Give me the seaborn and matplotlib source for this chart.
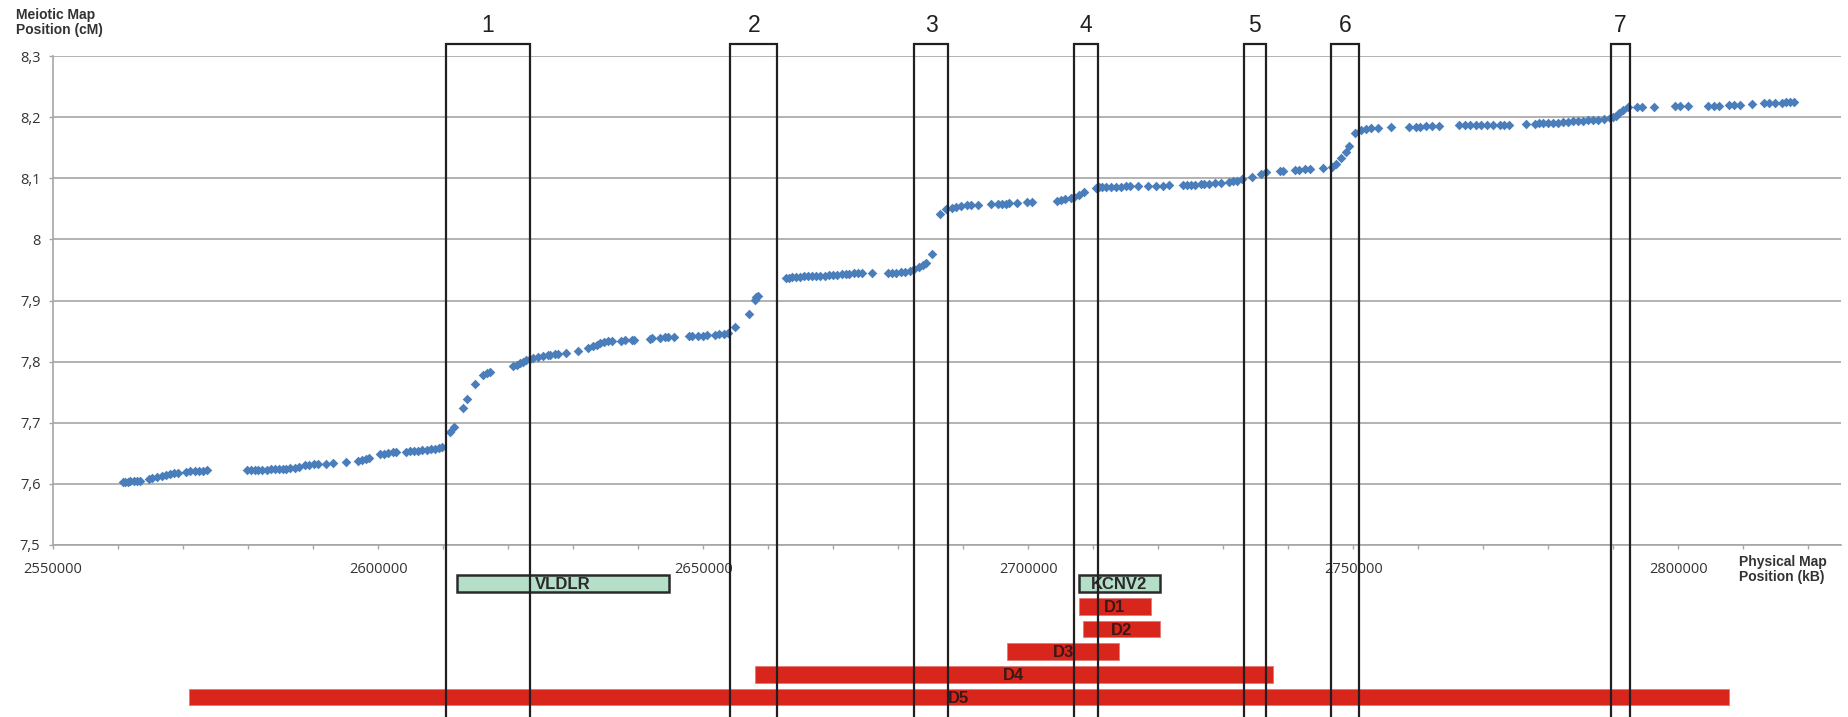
import matplotlib
matplotlib.use("Agg")
import matplotlib.pyplot as plt
from matplotlib.patches import Rectangle
from matplotlib.transforms import blended_transform_factory
from matplotlib.ticker import MultipleLocator, FuncFormatter
from matplotlib import font_manager
import seaborn as sns
import pandas as pd

# ---------------------------------------------------------------- data
physical_pos = [
    2560700, 2561100, 2561500, 2561900, 2562400, 2562900, 2563400,
    2564800, 2565300, 2566000, 2566700, 2567400, 2568000, 2568600, 2569300,
    2570400, 2571100, 2571800, 2572400, 2573100, 2573700,
    2579800, 2580400, 2581000, 2581600, 2582200, 2582900, 2583500, 2584100,
    2584700, 2585300, 2585900, 2586500, 2587200, 2587800,
    2588700, 2589400, 2590100, 2590800, 2592000, 2593100,
    2595000,
    2596900, 2597600, 2598200, 2598600,
    2600300, 2600900, 2601600, 2602300, 2602800,
    2604300, 2604900, 2605500, 2606200, 2606800, 2607500, 2608100, 2608700, 2609300, 2609900,
    2611000, 2611700, 2613000, 2613700, 2614900, 2616200, 2616700, 2617200,
    2620800, 2621300, 2621800, 2622300, 2622800, 2623300, 2623900, 2624600, 2625400, 2626200,
    2626500, 2627200, 2627700, 2628900, 2630700, 2632300, 2633000, 2633600, 2634200, 2634800,
    2635400, 2635900, 2637400, 2637900, 2639000, 2639300, 2641800, 2642200, 2643400, 2644100,
    2644600, 2645500, 2647800, 2648300, 2649200, 2650000, 2650600, 2651800, 2652400, 2653200,
    2653800, 2654900, 2657000, 2657900, 2658200, 2658400,
    2662700, 2663200, 2663700, 2664200, 2664900, 2665500, 2666100, 2666800, 2667400, 2668000,
    2668700, 2669400, 2670000, 2670600, 2671300, 2671900, 2672500, 2673200, 2673800, 2674500,
    2675900, 2678400, 2679100, 2679700, 2680500, 2681100, 2681800, 2682500, 2683200, 2683800,
    2684300, 2685200,
    2686500, 2687400, 2688200, 2688900, 2689700, 2690500, 2691200, 2692300, 2694300, 2695300,
    2695900, 2696500, 2697100, 2698200, 2699800, 2700500,
    2704400, 2705100, 2705700, 2706500, 2707100, 2707800, 2708500,
    2710400, 2710900, 2711400, 2712000, 2712800, 2713500, 2714300, 2715000, 2715600, 2716900,
    2718400, 2719700, 2720700, 2721700, 2723800, 2724400, 2725100, 2725700, 2726500, 2727100,
    2727800, 2728700, 2729700, 2730900, 2731500, 2732100, 2732900, 2734400, 2735800, 2736500,
    2738700, 2739200, 2741000, 2741700, 2742500, 2743300, 2745300, 2746700, 2747400, 2748100,
    2748800, 2749400, 2750200, 2751200, 2752000, 2752700, 2753800, 2755800,
    2758500, 2759600, 2760300, 2761200, 2762100, 2763100,
    2766300, 2767100, 2768000, 2768800, 2769700, 2770500, 2771500, 2772500, 2773200, 2773900,
    2776600, 2777900, 2778500, 2779200, 2779900, 2780700, 2781400, 2782200, 2783000, 2783800,
    2784500, 2785300, 2786100, 2786800, 2787600, 2788500, 2789400, 2789900,
    2790400, 2790900, 2791500, 2792200,
    2793700, 2794400, 2796300, 2799400, 2800300, 2801400, 2804500, 2805400, 2806200, 2807800,
    2808600, 2809500, 2811300, 2813200, 2814000, 2814800, 2816000, 2816600, 2817200, 2817700,
]

meiotic_cm = [
    7.6025, 7.6031, 7.6036, 7.6042, 7.6042, 7.6047, 7.6052,
    7.6080, 7.6096, 7.6118, 7.6134, 7.6151, 7.6162, 7.6173, 7.6184,
    7.6200, 7.6206, 7.6211, 7.6211, 7.6217, 7.6222,
    7.6227, 7.6227, 7.6227, 7.6233, 7.6233, 7.6233, 7.6238, 7.6238,
    7.6238, 7.6243, 7.6249, 7.6254, 7.6265, 7.6276,
    7.6303, 7.6314, 7.6320, 7.6320, 7.6320, 7.6341,
    7.6363,
    7.6374, 7.6391, 7.6407, 7.6423,
    7.6489, 7.6494, 7.6500, 7.6516, 7.6521,
    7.6527, 7.6532, 7.6538, 7.6543, 7.6549, 7.6554, 7.6565, 7.6570, 7.6587, 7.6609,
    7.6843, 7.6936, 7.7246, 7.7388, 7.7633, 7.7780, 7.7807, 7.7835,
    7.7933, 7.7949, 7.7971, 7.7998, 7.8026, 7.8047, 7.8058, 7.8069, 7.8091, 7.8102,
    7.8113, 7.8118, 7.8124, 7.8140, 7.8167, 7.8227, 7.8254, 7.8276, 7.8298, 7.8314,
    7.8331, 7.8336, 7.8342, 7.8347, 7.8353, 7.8358, 7.8374, 7.8380, 7.8391, 7.8396,
    7.8402, 7.8402, 7.8412, 7.8418, 7.8418, 7.8423, 7.8429, 7.8440, 7.8445, 7.8456,
    7.8472, 7.8571, 7.8778, 7.9007, 7.9061, 7.9072,
    7.9361, 7.9372, 7.9377, 7.9383, 7.9388, 7.9394, 7.9399, 7.9399, 7.9399, 7.9404,
    7.9404, 7.9410, 7.9415, 7.9421, 7.9432, 7.9432, 7.9437, 7.9443, 7.9443, 7.9443,
    7.9448, 7.9453, 7.9453, 7.9453, 7.9459, 7.9464, 7.9481, 7.9508, 7.9541, 7.9573,
    7.9606, 7.9759,
    8.0413, 8.0489, 8.0516, 8.0533, 8.0549, 8.0560, 8.0560, 8.0565, 8.0576, 8.0571,
    8.0583, 8.0583, 8.0588, 8.0588, 8.0604, 8.0604,
    8.0632, 8.0637, 8.0653, 8.0681, 8.0697, 8.0724, 8.0768,
    8.0833, 8.0850, 8.0855, 8.0855, 8.0861, 8.0861, 8.0861, 8.0866, 8.0866, 8.0871,
    8.0871, 8.0877, 8.0877, 8.0882, 8.0888, 8.0888, 8.0893, 8.0893, 8.0899, 8.0904,
    8.0910, 8.0920, 8.0926, 8.0937, 8.0948, 8.0959, 8.0980, 8.1013, 8.1068, 8.1100,
    8.1117, 8.1117, 8.1133, 8.1138, 8.1144, 8.1149, 8.1160, 8.1187, 8.1231, 8.1324,
    8.1433, 8.1525, 8.1743, 8.1787, 8.1809, 8.1820, 8.1820, 8.1836,
    8.1842, 8.1842, 8.1842, 8.1852, 8.1852, 8.1852,
    8.1863, 8.1863, 8.1869, 8.1874, 8.1874, 8.1874, 8.1874, 8.1874, 8.1874, 8.1874,
    8.1891, 8.1891, 8.1896, 8.1896, 8.1901, 8.1907, 8.1912, 8.1918, 8.1923, 8.1929,
    8.1934, 8.1940, 8.1945, 8.1951, 8.1961, 8.1972, 8.1989, 8.1994,
    8.2021, 8.2070, 8.2114, 8.2158,
    8.2163, 8.2163, 8.2169, 8.2174, 8.2174, 8.2179, 8.2185, 8.2190, 8.2190, 8.2196,
    8.2196, 8.2201, 8.2207, 8.2223, 8.2228, 8.2228, 8.2239, 8.2245, 8.2245, 8.2245,
]

# recombination windows
window_labels = ["1", "2", "3", "4", "5", "6", "7"]
window_start = [2610500, 2654200, 2682400, 2707000, 2733200, 2746600, 2789700]
window_end = [2623300, 2661400, 2687700, 2710700, 2736500, 2750800, 2792500]

# genes
gene_names = ["VLDLR", "KCNV2"]
gene_start = [2612100, 2707800]
gene_end = [2644800, 2720200]

# deletions
deletion_names = ["D1", "D2", "D3", "D4", "D5"]
deletion_start = [2707800, 2708400, 2696800, 2657900, 2570900]
deletion_end = [2718800, 2720200, 2714000, 2737700, 2807700]

y_ticks = [7.5, 7.6, 7.7, 7.8, 7.9, 8.0, 8.1, 8.2, 8.3]
x_range = (2550000, 2825000)

# ---------------------------------------------------------------- style
sns.set_theme(style="white")
available = {f.name for f in font_manager.fontManager.ttflist}


def pick(*names):
    for n in names:
        if n in available:
            return n
    return "DejaVu Sans"


narrow = pick("Liberation Sans Narrow", "Liberation Sans")
arial = pick("Liberation Sans", "DejaVu Sans")
ticks_font = pick("Open Sans", "Lato", "DejaVu Sans")
plt.rcParams["font.family"] = [ticks_font, "DejaVu Sans"]

GRID = "#a6a6a6"
BLUE = "#4a7ebb"
RED = "#d9261c"
GREEN = "#b5dec9"
INK = "#231f20"

W, H = 1848, 717
fig = plt.figure(figsize=(W / 100, H / 100), dpi=100)
left, right, top, bottom = 53, 1841, 56, 545
ax = fig.add_axes([left / W, 1 - bottom / H, (right - left) / W, (bottom - top) / H])

df = pd.DataFrame({"pos": physical_pos, "cm": meiotic_cm})
sns.scatterplot(data=df, x="pos", y="cm", ax=ax, marker="D", s=24,
                color=BLUE, linewidth=0, zorder=3)

# recombination windows spanning from the header down through the annotation rows
trans = blended_transform_factory(ax.transData, fig.transFigure)
box_top = 1 - 43.5 / H
label_y = 1 - 25.5 / H
for lab, s, e in zip(window_labels, window_start, window_end):
    ax.add_patch(Rectangle((s, -0.02), e - s, box_top + 0.02, transform=trans,
                           fill=False, edgecolor=INK, lw=1.6, clip_on=False, zorder=6))
    ax.text((s + e) / 2, label_y, lab, transform=trans, ha="center", va="center",
            fontsize=16.5, family=[narrow, "DejaVu Sans"], color=INK)

ax.set_xlim(*x_range)
ax.set_ylim(y_ticks[0], y_ticks[-1])
ax.set_yticks(y_ticks)
ax.xaxis.set_major_locator(MultipleLocator(50000))
ax.xaxis.set_minor_locator(MultipleLocator(10000))
ax.xaxis.set_major_formatter(FuncFormatter(lambda v, p: f"{int(round(v))}"))


def comma_fmt(v, p):
    if abs(v - round(v)) < 1e-9:
        return f"{int(round(v))}"
    return f"{v:.1f}".replace(".", ",")


ax.yaxis.set_major_formatter(FuncFormatter(comma_fmt))
ax.set_xlabel("")
ax.set_ylabel("")
ax.grid(axis="y", color=GRID, lw=1.2)
ax.grid(axis="x", visible=False)
for side in ("top", "right"):
    ax.spines[side].set_visible(False)
for side in ("left", "bottom"):
    ax.spines[side].set_color(GRID)
    ax.spines[side].set_linewidth(1.2)
ax.tick_params(axis="y", which="major", direction="out", length=3, width=1,
               color=GRID, pad=6, labelsize=10.5, labelcolor="#333333", left=True)
ax.tick_params(axis="x", which="both", direction="out", length=3, width=1,
               color=GRID, pad=9.5, labelsize=10.5, labelcolor="#333333", bottom=True)
ax.set_zorder(2)

# annotation rows: genes on top, deletions below
ax2 = fig.add_axes([left / W, 0, (right - left) / W, 1 - bottom / H])
ax2.set_xlim(*x_range)
ax2.set_ylim(5.881, -1.696)
ax2.axis("off")
ax2.set_zorder(1)
bar_h = 0.735
for name, s, e in zip(gene_names, gene_start, gene_end):
    ax2.barh(0, e - s, left=s, height=bar_h, color=GREEN, edgecolor="#2b2b2b", lw=1.8)
    ax2.text((s + e) / 2, 0.05, name, ha="center", va="center", fontsize=12,
             fontweight="bold", family=[arial, "DejaVu Sans"], color="#2a2a2a")
for i, (name, s, e) in enumerate(zip(deletion_names, deletion_start, deletion_end), start=1):
    ax2.barh(i, e - s, left=s, height=bar_h, color=RED, edgecolor="#e07a72", lw=0.6)
    ax2.text((s + e) / 2, i + 0.05, name, ha="center", va="center", fontsize=12,
             fontweight="bold", family=[arial, "DejaVu Sans"], color="#3a1816")

fig.text(16 / W, 1 - 8 / H, "Meiotic Map\nPosition (cM)", ha="left", va="top",
         fontsize=10, fontweight="bold", family=[arial, "DejaVu Sans"],
         color="#333333", linespacing=1.05)
fig.text(1739 / W, 1 - 555 / H, "Physical Map\nPosition (kB)", ha="left", va="top",
         fontsize=10, fontweight="bold", family=[arial, "DejaVu Sans"],
         color="#333333", linespacing=1.05)

fig.savefig("out.png", dpi=100, facecolor="white")
